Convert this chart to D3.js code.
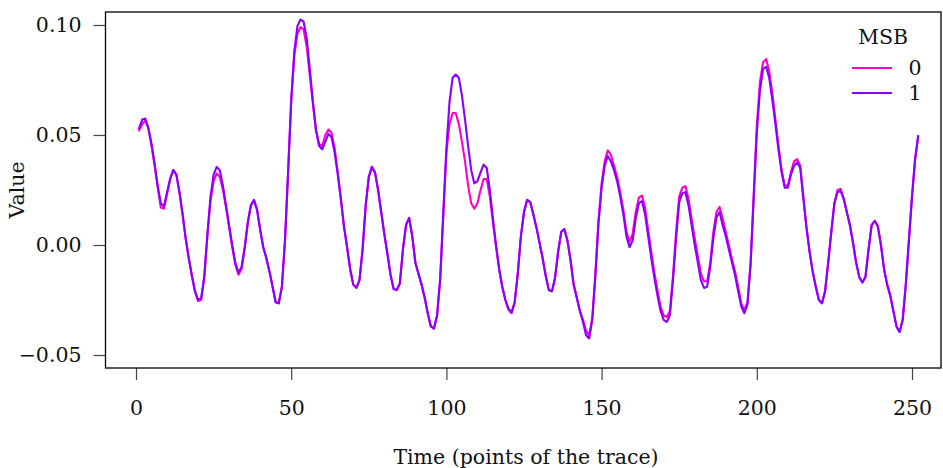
<!DOCTYPE html>
<html>
<head>
<meta charset="utf-8">
<script src="https://cdn.jsdelivr.net/npm/d3@7"></script>
<style>
  html, body { margin: 0; padding: 0; background: #fff; }
  svg { display: block; }
  text { font-family: "DejaVu Serif", serif; fill: #111; }
</style>
</head>
<body>
<svg id="chart" width="943" height="468"></svg>
<script>
// Trace values for each MSB class, one value per time point (1..252)
const msb0 = [
  0.052, 0.055, 0.0565, 0.053, 0.045, 0.036, 0.026, 0.017, 0.0165, 0.023, 0.030, 0.034,
  0.032, 0.024, 0.014, 0.003, -0.006, -0.014, -0.021, -0.0255, -0.025, -0.015, 0.004, 0.020,
  0.029, 0.0325, 0.031, 0.025, 0.017, 0.008, -0.001, -0.009, -0.0135, -0.011, -0.002, 0.010,
  0.018, 0.0205, 0.016, 0.007, -0.001, -0.006, -0.012, -0.019, -0.026, -0.0265, -0.019, 0.002,
  0.033, 0.065, 0.086, 0.096, 0.099, 0.098, 0.090, 0.077, 0.064, 0.052, 0.046, 0.045,
  0.050, 0.0525, 0.051, 0.044, 0.033, 0.021, 0.0085, -0.001, -0.011, -0.018, -0.0195, -0.016,
  -0.002, 0.018, 0.031, 0.0355, 0.033, 0.025, 0.015, 0.005, -0.004, -0.0135, -0.020, -0.0205,
  -0.0175, -0.002, 0.009, 0.0123, 0.004, -0.008, -0.013, -0.018, -0.024, -0.031, -0.037, -0.038,
  -0.032, -0.016, 0.013, 0.042, 0.055, 0.060, 0.060, 0.055, 0.047, 0.038, 0.027, 0.019,
  0.0165, 0.019, 0.025, 0.030, 0.030, 0.022, 0.010, -0.001, -0.011, -0.019, -0.025, -0.0295,
  -0.031, -0.026, -0.013, 0.004, 0.015, 0.0205, 0.0195, 0.014, 0.008, 0.001, -0.006, -0.014,
  -0.0205, -0.021, -0.015, -0.003, 0.006, 0.0072, 0.002, -0.007, -0.018, -0.024, -0.030, -0.034,
  -0.039, -0.041, -0.033, -0.013, 0.011, 0.028, 0.038, 0.043, 0.041, 0.036, 0.031, 0.024,
  0.016, 0.006, 0.0014, 0.005, 0.015, 0.0215, 0.0225, 0.017, 0.007, -0.003, -0.0125, -0.0205,
  -0.028, -0.032, -0.0327, -0.030, -0.014, 0.006, 0.022, 0.026, 0.0268, 0.021, 0.012, 0.003,
  -0.005, -0.013, -0.0165, -0.0165, -0.008, 0.006, 0.015, 0.0173, 0.012, 0.006, 0.000, -0.0065,
  -0.012, -0.019, -0.0265, -0.0297, -0.026, -0.008, 0.023, 0.054, 0.074, 0.083, 0.0845, 0.079,
  0.069, 0.057, 0.045, 0.034, 0.027, 0.027, 0.033, 0.038, 0.039, 0.036, 0.022, 0.008,
  -0.003, -0.012, -0.019, -0.025, -0.0265, -0.021, -0.008, 0.006, 0.019, 0.025, 0.0255, 0.021,
  0.015, 0.009, 0.001, -0.008, -0.0145, -0.017, -0.0145, -0.002, 0.009, 0.011, 0.0085, 0.000,
  -0.011, -0.018, -0.023, -0.030, -0.037, -0.0395, -0.034, -0.018, 0.002, 0.022, 0.039, 0.0495
];

const msb1 = [
  0.053, 0.057, 0.0575, 0.053, 0.046, 0.037, 0.027, 0.019, 0.0175, 0.024, 0.030, 0.034,
  0.032, 0.024, 0.014, 0.003, -0.006, -0.014, -0.021, -0.025, -0.024, -0.014, 0.005, 0.022,
  0.032, 0.0355, 0.034, 0.027, 0.018, 0.009, 0.000, -0.008, -0.0125, -0.010, -0.001, 0.010,
  0.018, 0.0205, 0.016, 0.007, -0.001, -0.006, -0.012, -0.019, -0.026, -0.0265, -0.019, 0.002,
  0.033, 0.066, 0.088, 0.0995, 0.1025, 0.1015, 0.094, 0.080, 0.065, 0.052, 0.045, 0.0435,
  0.047, 0.0505, 0.049, 0.042, 0.032, 0.021, 0.0085, -0.001, -0.011, -0.018, -0.0195, -0.016,
  -0.002, 0.018, 0.031, 0.0355, 0.033, 0.025, 0.015, 0.005, -0.004, -0.0135, -0.020, -0.0205,
  -0.0175, -0.002, 0.009, 0.0123, 0.004, -0.008, -0.013, -0.018, -0.024, -0.031, -0.037, -0.038,
  -0.032, -0.015, 0.015, 0.044, 0.065, 0.076, 0.0775, 0.076, 0.068, 0.057, 0.045, 0.034,
  0.028, 0.029, 0.033, 0.0365, 0.035, 0.025, 0.012, 0.000, -0.011, -0.019, -0.025, -0.029,
  -0.0305, -0.026, -0.013, 0.004, 0.015, 0.0205, 0.0195, 0.014, 0.008, 0.001, -0.006, -0.014,
  -0.0205, -0.021, -0.015, -0.003, 0.006, 0.0072, 0.002, -0.007, -0.018, -0.024, -0.030, -0.035,
  -0.041, -0.0425, -0.034, -0.014, 0.010, 0.026, 0.036, 0.0405, 0.038, 0.034, 0.029, 0.022,
  0.014, 0.004, -0.001, 0.002, 0.012, 0.019, 0.020, 0.014, 0.004, -0.006, -0.015, -0.023,
  -0.030, -0.034, -0.035, -0.032, -0.016, 0.003, 0.0195, 0.0235, 0.024, 0.018, 0.009, 0.000,
  -0.008, -0.016, -0.0195, -0.019, -0.010, 0.003, 0.0125, 0.015, 0.009, 0.004, -0.002, -0.008,
  -0.0138, -0.021, -0.028, -0.031, -0.027, -0.009, 0.021, 0.051, 0.070, 0.080, 0.081, 0.076,
  0.066, 0.055, 0.043, 0.033, 0.026, 0.026, 0.032, 0.036, 0.0375, 0.035, 0.021, 0.008,
  -0.003, -0.012, -0.019, -0.025, -0.0265, -0.021, -0.008, 0.006, 0.019, 0.024, 0.0245, 0.021,
  0.015, 0.009, 0.001, -0.008, -0.0145, -0.017, -0.0145, -0.002, 0.009, 0.011, 0.0085, 0.000,
  -0.011, -0.018, -0.023, -0.030, -0.037, -0.0395, -0.034, -0.018, 0.002, 0.022, 0.039, 0.0495
];

const seriesNames = ["0", "1"];
const seriesColors = ["#ff00cc", "#8a00ff"];
const xTicks = [0, 50, 100, 150, 200, 250];
const yTicks = [-0.05, 0.00, 0.05, 0.10];

const svg = d3.select("#chart");
const fontSize = "20.5px";

// Plot frame
const box = { left: 105.5, right: 941, top: 12, bottom: 368 };

const x = d3.scaleLinear().domain([0, 250]).range([136, 912]);
const y = d3.scaleLinear().domain([-0.05, 0.10]).range([355, 25]);

const series = [msb0, msb1].map((vals, k) => ({
  name: seriesNames[k],
  color: seriesColors[k],
  points: vals.map((v, i) => ({ t: i + 1, v }))
}));

// Axes (outward ticks, labels below/left)
const fmtY = v => (v < 0 ? "\u2212" : "") + Math.abs(v).toFixed(2);

const xAxis = d3.axisBottom(x).tickValues(xTicks).tickSize(12).tickPadding(20).tickFormat(d3.format("d"));
const yAxis = d3.axisLeft(y).tickValues(yTicks).tickSize(12).tickPadding(12).tickFormat(fmtY);

const gx = svg.append("g").attr("transform", `translate(0,${box.bottom})`).call(xAxis);
gx.select(".domain").remove();
gx.selectAll(".tick line").attr("stroke", "#444").attr("stroke-width", 1.2);
gx.selectAll(".tick text").style("font-size", fontSize).style("font-family", "DejaVu Serif, serif").attr("fill", "#111");

const gy = svg.append("g").attr("transform", `translate(${box.left},0)`).call(yAxis);
gy.select(".domain").remove();
gy.selectAll(".tick line").attr("stroke", "#444").attr("stroke-width", 1.2);
gy.selectAll(".tick text").style("font-size", fontSize).style("font-family", "DejaVu Serif, serif").attr("fill", "#111");

// Series lines
const line = d3.line().x(d => x(d.t)).y(d => y(d.v));
svg.append("g").selectAll("path")
  .data(series)
  .join("path")
  .attr("d", d => line(d.points))
  .attr("fill", "none")
  .attr("stroke", d => d.color)
  .attr("stroke-width", 2.1)
  .attr("stroke-linejoin", "round")
  .attr("stroke-linecap", "round");

// Frame
svg.append("rect")
  .attr("x", box.left).attr("y", box.top)
  .attr("width", box.right - box.left).attr("height", box.bottom - box.top)
  .attr("fill", "none").attr("stroke", "#000").attr("stroke-width", 1.3);

// Axis titles
svg.append("text")
  .attr("x", 526).attr("y", 464)
  .attr("text-anchor", "middle")
  .style("font-size", fontSize)
  .text("Time (points of the trace)");

svg.append("text")
  .attr("transform", "translate(24,190) rotate(-90)")
  .attr("text-anchor", "middle")
  .style("font-size", fontSize)
  .text("Value");

// Legend
const legend = svg.append("g");
legend.append("text")
  .attr("x", 883).attr("y", 44)
  .attr("text-anchor", "middle")
  .style("font-size", fontSize)
  .text("MSB");

const items = legend.selectAll("g.item")
  .data(series)
  .join("g")
  .attr("class", "item")
  .attr("transform", (d, k) => `translate(0,${68 + k * 25})`);

items.append("line")
  .attr("x1", 852).attr("x2", 892)
  .attr("y1", 0).attr("y2", 0)
  .attr("stroke", d => d.color)
  .attr("stroke-width", 2.1);

items.append("text")
  .attr("x", 915).attr("y", 7)
  .attr("text-anchor", "middle")
  .style("font-size", fontSize)
  .text(d => d.name);
</script>
</body>
</html>
